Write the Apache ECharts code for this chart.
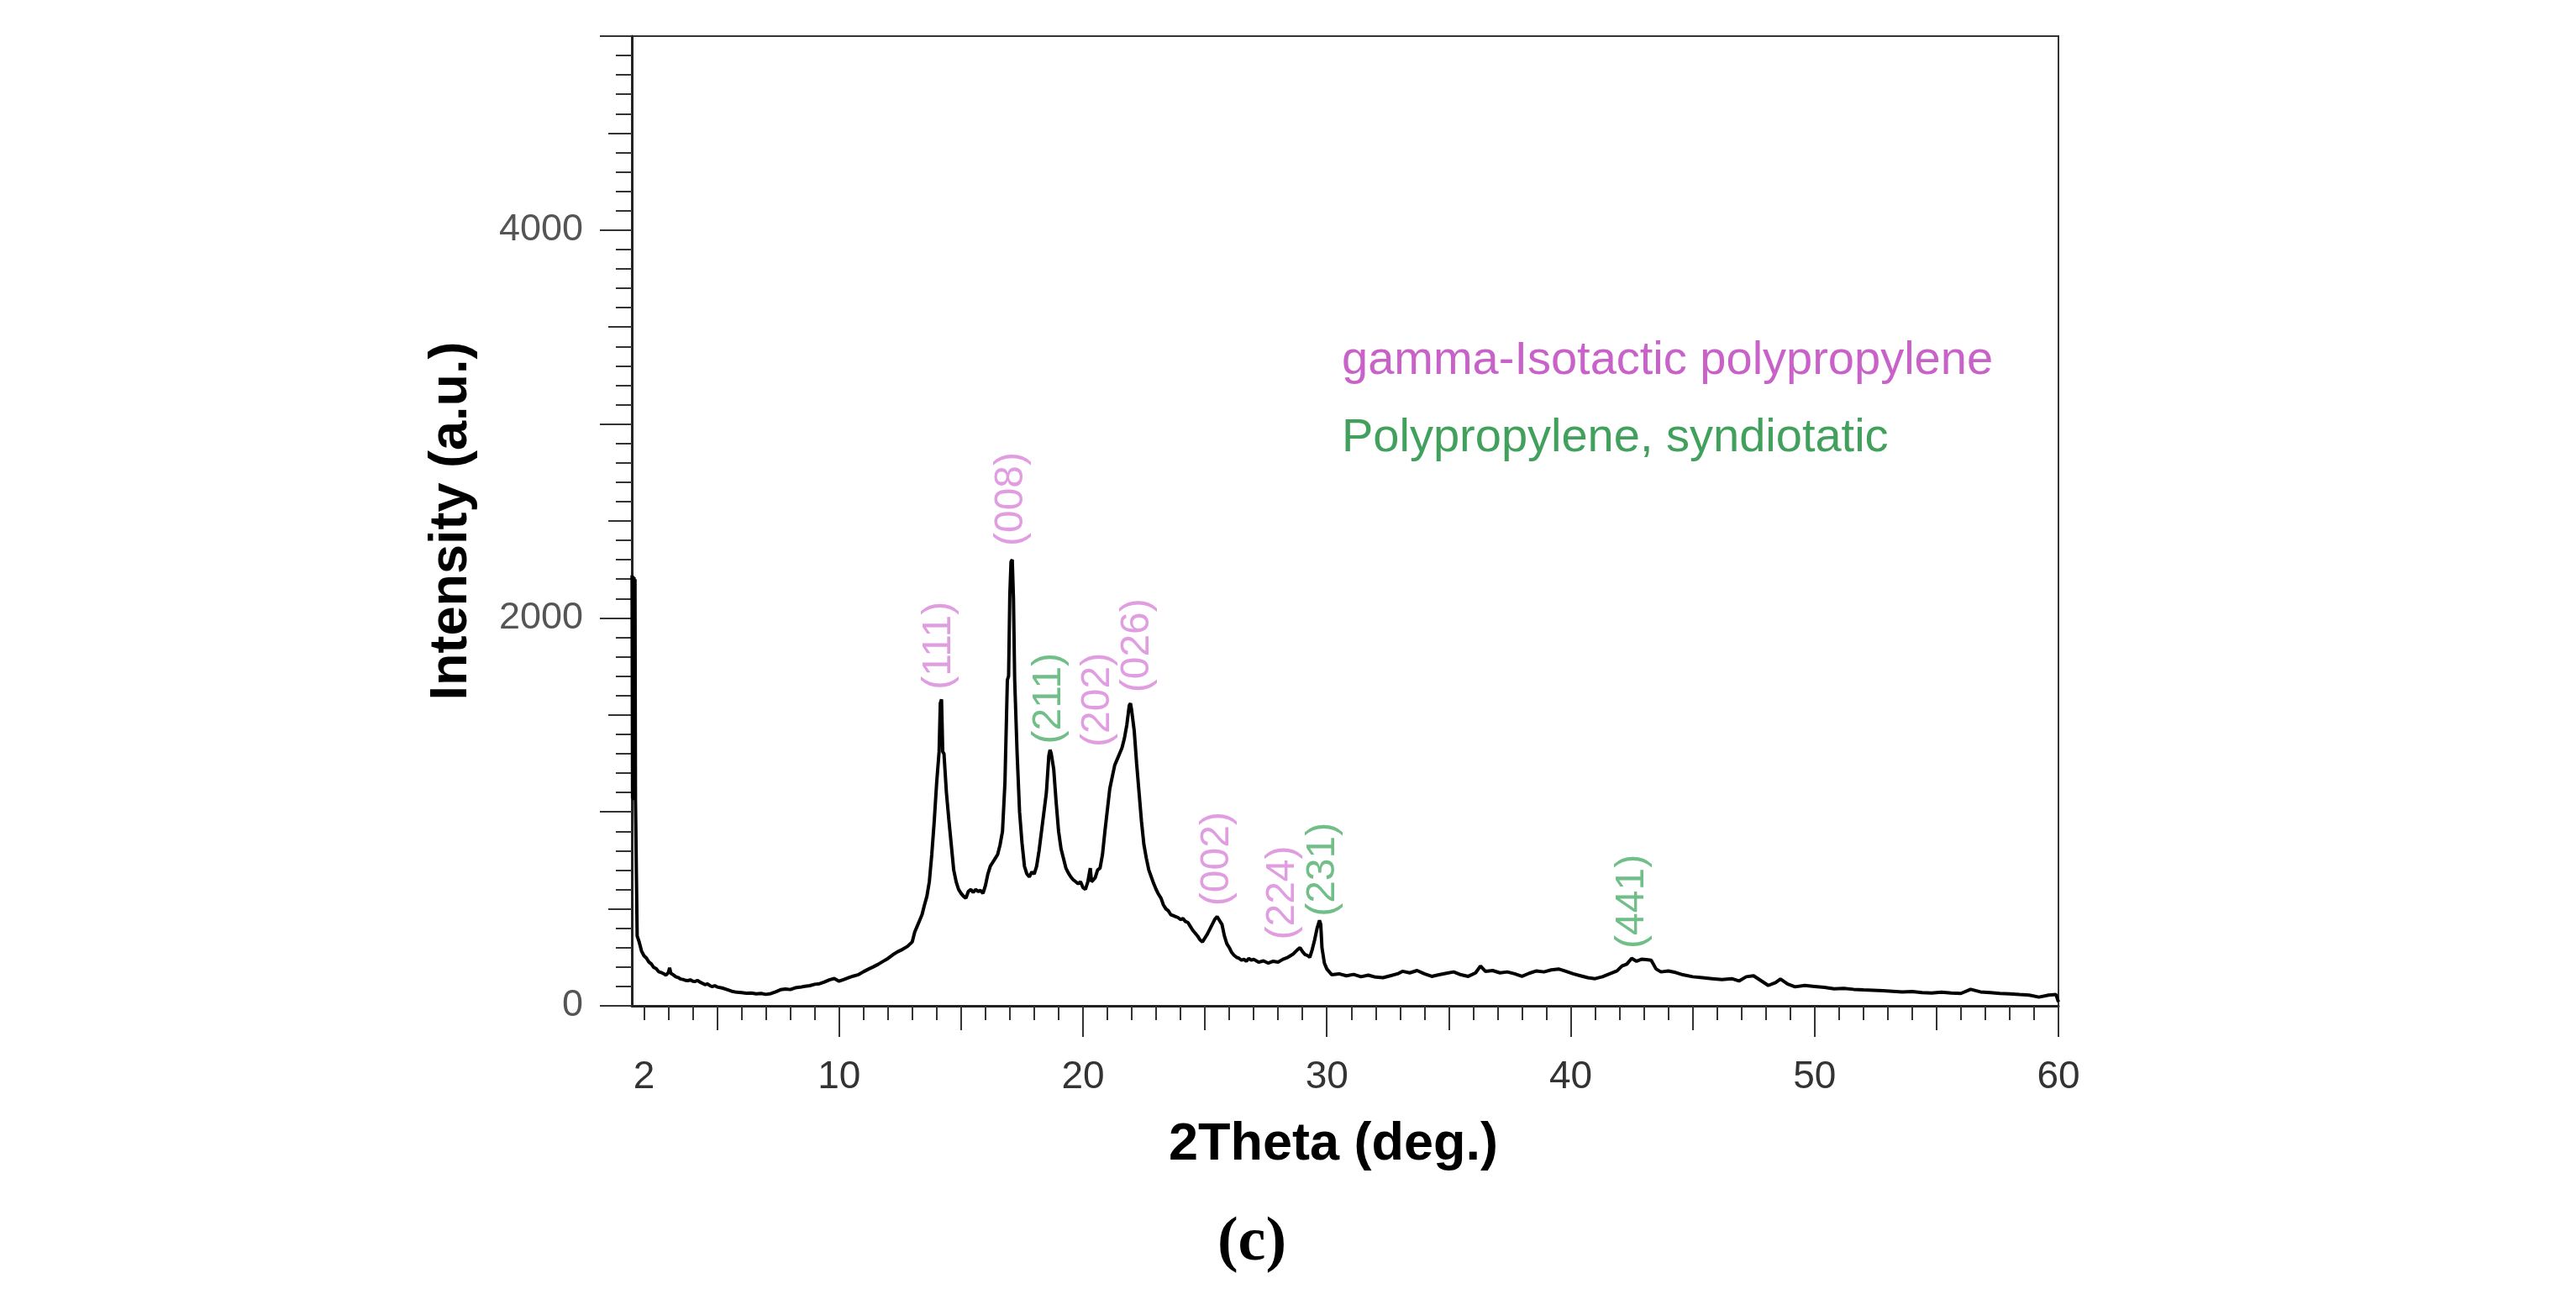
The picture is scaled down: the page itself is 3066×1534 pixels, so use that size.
<!DOCTYPE html>
<html><head><meta charset="utf-8">
<script src="https://cdn.jsdelivr.net/npm/echarts@6/dist/echarts.min.js"></script>
<style>html,body{margin:0;padding:0;background:#fff}#c{width:3066px;height:1534px}</style>
</head><body><div id="c"></div>
<script>
// ---- data (2Theta in degrees, intensity in a.u.) ----
const scanLow = [[1.51,2220],[1.53,1070],[1.55,2215],[1.57,1060],[1.59,2210],[1.61,1065],[1.63,2200],[1.65,1060],[1.68,1065],[1.72,360],[1.76,345],[1.8,330],[1.9,282],[2.0,258],[2.1,246],[2.2,226],[2.3,216],[2.4,198],[2.5,192],[2.6,176],[2.7,172],[2.8,166],[2.9,158],[3.0,172],[3.05,196],[3.1,168],[3.2,160],[3.3,150],[3.4,146],[3.5,138],[3.6,136],[3.7,131],[3.8,130],[3.9,134],[4.0,127],[4.1,126],[4.2,131],[4.3,122],[4.4,116],[4.5,109],[4.6,113],[4.7,104],[4.8,99],[4.9,104],[5.0,97],[5.2,92],[5.4,84],[5.6,75],[5.8,70],[6.0,68],[6.2,65],[6.4,66],[6.6,62],[6.8,64],[7.0,59],[7.2,63],[7.4,72],[7.6,83],[7.8,87],[8.0,84],[8.2,93],[8.4,96],[8.6,101],[8.8,104],[9.0,111],[9.2,114],[9.4,123],[9.6,134],[9.8,141],[10.0,127],[10.2,136],[10.4,146],[10.6,154],[10.8,161],[11.0,176],[11.2,189],[11.4,201],[11.6,214],[11.8,229],[12.0,244],[12.2,263],[12.4,279],[12.6,291],[12.8,306],[13.0,330]];
const scanPeaks = [[13.1,380],[13.2,410],[13.3,440],[13.4,470],[13.5,520],[13.6,565],[13.7,640],[13.8,780],[13.9,950],[14.0,1150],[14.1,1310],[14.15,1560],[14.2,1580],[14.25,1310],[14.3,1300],[14.4,1100],[14.5,960],[14.6,830],[14.7,700],[14.8,640],[14.9,600],[15.0,580],[15.1,565],[15.2,555],[15.3,590],[15.4,600],[15.5,585],[15.6,600],[15.7,590],[15.8,595],[15.9,580],[16.0,620],[16.1,680],[16.2,720],[16.3,740],[16.4,760],[16.5,780],[16.6,830],[16.7,900],[16.8,1150],[16.9,1680],[16.95,1700],[17.0,2120],[17.05,2290],[17.1,2300],[17.15,2100],[17.2,1680],[17.3,1300],[17.4,1000],[17.5,840],[17.6,720],[17.7,680],[17.8,665],[17.9,690],[18.0,680],[18.1,720],[18.2,800],[18.3,900],[18.4,1000],[18.5,1100],[18.6,1290],[18.65,1320],[18.7,1300],[18.8,1220],[18.9,1050],[19.0,900],[19.1,810],[19.2,760],[19.3,710],[19.4,685],[19.5,665],[19.6,650],[19.7,640],[19.8,630],[19.9,640],[20.0,610],[20.1,600],[20.2,640],[20.3,710],[20.35,640],[20.5,660],[20.6,700],[20.7,710],[20.8,780],[20.9,900],[21.0,1010],[21.1,1120],[21.2,1180],[21.3,1240],[21.4,1270],[21.5,1300],[21.6,1330],[21.7,1380],[21.8,1450],[21.9,1550],[21.95,1560],[22.0,1520],[22.1,1420],[22.2,1250],[22.3,1100],[22.4,950],[22.5,830],[22.6,760],[22.7,700],[22.8,665],[22.9,630],[23.0,600],[23.1,575],[23.2,555],[23.3,520],[23.4,500],[23.5,490],[23.6,470],[23.7,465],[23.8,460],[23.9,455],[24.0,445],[24.1,450],[24.2,435],[24.3,430],[24.4,410],[24.5,390],[24.6,375],[24.7,360],[24.8,340],[24.9,330],[25.0,350],[25.1,370],[25.2,395],[25.3,420],[25.4,445],[25.5,460],[25.6,440],[25.7,420],[25.8,360],[25.9,320],[26.0,300],[26.1,275],[26.2,260],[26.3,250],[26.4,245],[26.5,235],[26.6,240],[26.7,230],[26.8,245],[26.9,235],[27.0,240],[27.2,225],[27.4,232],[27.6,220],[27.8,230],[28.0,225],[28.2,240],[28.4,250],[28.6,265],[28.8,290],[28.9,300],[29.0,280],[29.1,265],[29.2,260],[29.3,250],[29.4,290],[29.5,340],[29.6,400],[29.7,440],[29.75,420],[29.8,300],[29.9,220],[30.0,190]];
const scanHigh = [[30.2,160],[30.5,165],[30.8,155],[31.1,162],[31.4,150],[31.7,158],[32.0,148],[32.3,145],[32.6,155],[32.9,165],[33.1,178],[33.4,170],[33.7,182],[34.0,165],[34.3,152],[34.6,160],[34.9,168],[35.2,175],[35.5,160],[35.8,152],[36.1,170],[36.3,205],[36.5,178],[36.8,182],[37.1,170],[37.4,175],[37.7,165],[38.0,152],[38.3,168],[38.6,180],[38.9,175],[39.2,185],[39.5,190],[39.8,178],[40.1,165],[40.4,155],[40.7,145],[41.0,140],[41.3,150],[41.6,165],[41.9,180],[42.1,205],[42.3,215],[42.5,245],[42.7,230],[42.9,240],[43.1,238],[43.3,235],[43.5,190],[43.7,175],[44.0,180],[44.3,172],[44.6,160],[45.0,150],[45.4,145],[45.8,140],[46.2,135],[46.6,140],[46.9,128],[47.2,150],[47.5,155],[47.8,130],[48.1,105],[48.4,120],[48.6,138],[48.9,112],[49.2,98],[49.6,105],[50.0,100],[50.4,95],[50.8,88],[51.2,90],[51.6,85],[52.0,82],[52.4,80],[52.8,78],[53.2,75],[53.6,72],[54.0,74],[54.4,68],[54.8,66],[55.2,70],[55.6,66],[56.0,64],[56.4,85],[56.8,72],[57.2,68],[57.6,64],[58.0,62],[58.4,58],[58.8,55],[59.2,45],[59.6,55],[59.9,58],[60.0,20]];

const xLabelValues = [2, 10, 20, 30, 40, 50, 60];
const yLabelValues = [0, 2000, 4000];

const peakNames = ['(111)','(008)','(211)','(202)','(026)','(002)','(224)','(231)','(441)'];
const peakTheta = [14.09, 17.08, 18.62, 20.62, 22.24, 25.51, 28.2, 29.85, 42.52];
const peakLabelBase = [1630, 2370, 1350, 1335, 1615, 515, 340, 460, 295];
const peakPhase = ['gamma','gamma','syndio','gamma','gamma','gamma','gamma','syndio','syndio'];

const phaseNames = ['gamma-Isotactic polypropylene', 'Polypropylene, syndiotatic'];
const panelTitle = '(c)';

// ---- styles ----
const FONT = '"Liberation Sans", Arial, sans-serif';
const colGamma = '#c862c8', colSyn = '#40a05c';
const colGammaLbl = '#d886d8', colSynLbl = '#4dae6c';

// tick positions by tier
const xLong = [], xMid = [], xMinor = [];
for (let v = 2; v <= 60; v++) { if (v % 10 === 0) xLong.push(v); else if (v % 5 === 0) xMid.push(v); else xMinor.push(v); }
const yLong = [], yMid = [], yMinor = [];
for (let v = 0; v <= 5000; v += 100) { if (v % 1000 === 0) yLong.push(v); else if (v % 500 === 0) yMid.push(v); else yMinor.push(v); }

const tickStyle = { color: '#333', width: 2 };
function xAx(ticks, len, main) {
  const a = {
    type: 'value', min: 1.5, max: 60, gridIndex: 0, position: 'bottom',
    axisLine: { show: !!main, onZero: false, lineStyle: { color: '#222', width: 3 } },
    axisTick: { show: true, customValues: ticks, length: len, lineStyle: tickStyle },
    axisLabel: main ? { show: true, customValues: xLabelValues, formatter: v => String(v), margin: 62, fontSize: 46, color: '#333', fontFamily: FONT } : { show: false },
    splitLine: { show: false }
  };
  if (main) {
    a.name = '2Theta (deg.)'; a.nameLocation = 'middle'; a.nameGap = 134;
    a.nameTextStyle = { fontSize: 63, fontWeight: 'bold', color: '#000', fontFamily: FONT, padding: [0, 28, 0, 0] };
  }
  return a;
}
function yAx(ticks, len, main) {
  const a = {
    type: 'value', min: 0, max: 5000, gridIndex: 0, position: 'left',
    axisLine: { show: !!main, onZero: false, lineStyle: { color: '#222', width: 3 } },
    axisTick: { show: true, customValues: ticks, length: len, lineStyle: tickStyle },
    axisLabel: main ? { show: true, customValues: yLabelValues, formatter: v => String(v), margin: 58, fontSize: 45, color: '#555', fontFamily: FONT } : { show: false },
    splitLine: { show: false }
  };
  if (main) {
    a.name = 'Intensity (a.u.)'; a.nameLocation = 'middle'; a.nameGap = 183;
    a.nameTextStyle = { fontSize: 63, fontWeight: 'bold', color: '#000', fontFamily: FONT };
  }
  return a;
}

const chart = echarts.init(document.getElementById('c'), null, { renderer: 'canvas' });
chart.setOption({
  backgroundColor: '#fff',
  animation: false,
  grid: { left: 752, right: 616, top: 43, bottom: 337, show: true, borderColor: '#333', borderWidth: 2, backgroundColor: 'transparent', outerBoundsMode: 'none' },
  xAxis: [xAx(xLong, 37, true), xAx(xMid, 29, false), xAx(xMinor, 17, false)],
  yAxis: [yAx(yLong, 38, true), yAx(yMid, 28, false), yAx(yMinor, 19, false)],
  series: [
    {
      name: 'scan', type: 'line', xAxisIndex: 0, yAxisIndex: 0,
      data: scanLow.concat(scanPeaks, scanHigh),
      showSymbol: false, symbol: 'none', silent: true,
      lineStyle: { color: '#000', width: 4 }
    },
    {
      name: 'peaks', type: 'scatter', xAxisIndex: 0, yAxisIndex: 0, symbolSize: 0, silent: true,
      data: peakTheta.map((t, i) => ({
        value: [t, peakLabelBase[i]],
        label: { formatter: peakNames[i], color: peakPhase[i] === 'gamma' ? colGammaLbl : colSynLbl }
      })),
      label: { show: true, position: 'inside', rotate: 90, align: 'left', verticalAlign: 'middle', fontSize: 48, fontFamily: FONT }
    }
  ],
  graphic: [
    { type: 'text', x: 1597, y: 430, style: { text: phaseNames[0], fill: colGamma, font: '56px "Liberation Sans", Arial, sans-serif', verticalAlign: 'middle', textVerticalAlign: 'middle' } },
    { type: 'text', x: 1597, y: 522, style: { text: phaseNames[1], fill: colSyn, font: '56px "Liberation Sans", Arial, sans-serif', verticalAlign: 'middle', textVerticalAlign: 'middle' } },
    { type: 'text', x: 1490, y: 1480, style: { text: panelTitle, fill: '#000', font: 'bold 74px "Liberation Serif", "Times New Roman", serif', align: 'center', textAlign: 'center', verticalAlign: 'middle', textVerticalAlign: 'middle' } }
  ]
});
</script></body></html>
